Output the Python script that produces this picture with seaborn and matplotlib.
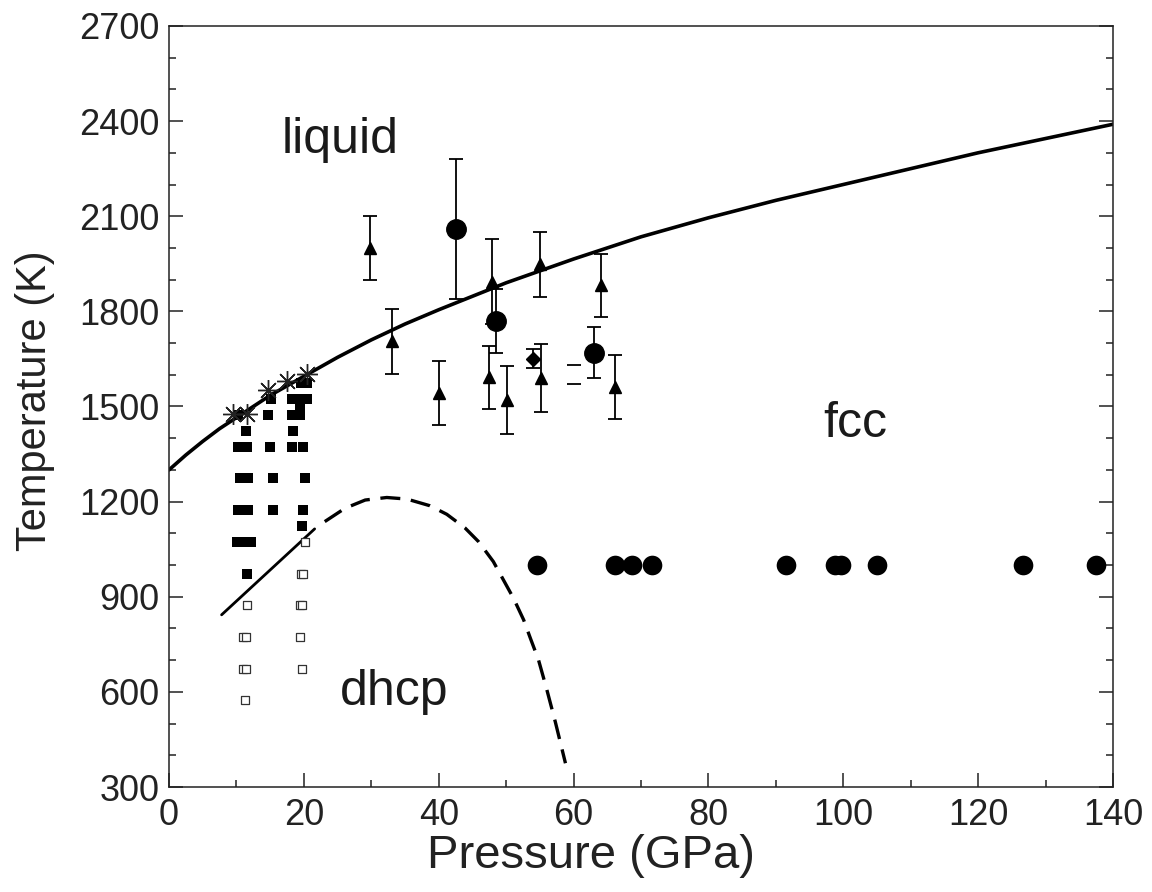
import numpy as np
import pandas as pd
import seaborn as sns
import matplotlib.pyplot as plt
from matplotlib.ticker import MultipleLocator

# melting curve
melt_P = [0, 2.5, 5, 7.5, 10, 15, 20, 25, 30, 35, 40, 50, 60, 70, 80, 90, 100, 110, 120,
          130, 140]
melt_T = [1300, 1347, 1390, 1430, 1465, 1535, 1595, 1655, 1710, 1760, 1805, 1890, 1965,
          2035, 2095, 2150, 2200, 2250, 2300, 2345, 2390]

# dhcp-fcc boundary: solid part and dashed part
bnd_P = [7.8, 21.6]
bnd_T = [843, 1114]
dash_P = [23.1, 26.1, 29.1, 32.3, 35.3, 38.7, 41.2, 43.9, 45.9, 48.1, 49.6, 51.1, 52.6,
          53.6, 54.8, 56.0, 57.3, 58.8]
dash_T = [1137, 1179, 1205, 1213, 1208, 1187, 1160, 1117, 1074, 1011, 953, 895, 827,
          769, 701, 610, 505, 375]

# filled squares (fcc)
fsq_P = [10.2, 11.4, 10.3, 11.5, 10.5, 11.7, 10.3, 11.7, 10.1, 11.1, 12.1, 11.5,
         15.2, 14.7, 15.0, 15.4, 15.4,
         19.6, 20.5, 18.2, 19.4, 20.5, 19.4, 18.3, 19.5, 18.4, 18.3, 19.9, 20.2, 19.9, 19.8]
fsq_T = [1473, 1423, 1373, 1373, 1273, 1273, 1173, 1173, 1073, 1073, 1073, 973,
         1523, 1473, 1373, 1273, 1173,
         1573, 1573, 1523, 1523, 1523, 1500, 1473, 1473, 1423, 1373, 1373, 1273, 1173, 1123]

# open squares (dhcp)
osq_P = [11.5, 11.0, 11.4, 11.0, 11.4, 11.2,
         20.1, 19.6, 19.9, 19.5, 19.8, 19.5, 19.8]
osq_T = [873, 773, 773, 673, 673, 573,
         1073, 973, 973, 873, 873, 773, 673]

# asterisks (melting)
ast_P = [9.55, 11.5, 14.7, 17.5, 20.5]
ast_T = [1475, 1475, 1552, 1580, 1603]

# triangles with error bars
tri_P = [29.8, 33.0, 40.1, 47.9, 47.4, 50.2, 55.0, 55.2, 64.1, 66.1]
tri_T = [2000, 1705, 1542, 1894, 1592, 1520, 1948, 1590, 1882, 1560]
tri_err = [100, 103, 100, 135, 100, 108, 103, 107, 100, 101]

# big circles with error bars
cir_P = [42.5, 48.5, 63.0]
cir_T = [2060, 1770, 1670]
cir_err = [221, 100, 80]

# diamond
dia_P = [54.0]
dia_T = [1650]
dia_err = [30]

# lone caps
cap_P = [60.0, 60.0]
cap_T = [1630, 1570]

# circles at 1000 K
row_P = [54.6, 66.1, 68.6, 71.6, 91.5, 98.8, 99.7, 105.0, 126.7, 137.5]
row_T = [1000] * len(row_P)

sns.set_style("ticks")
plt.rcParams['font.family'] = ['Liberation Sans', 'DejaVu Sans']

fig = plt.figure(figsize=(11.52, 8.92), dpi=100)
ax = fig.add_axes([0.1467, 0.1177, 0.8194, 0.8532])

sns.lineplot(x=melt_P, y=melt_T, ax=ax, color='black', lw=2.6, sort=False)
sns.lineplot(x=bnd_P, y=bnd_T, ax=ax, color='black', lw=2.0, sort=False)
ax.plot(dash_P, dash_T, color='black', lw=2.4, dashes=(6, 3.2))

sns.scatterplot(x=fsq_P, y=fsq_T, ax=ax, marker='s', s=42, color='black',
                edgecolor='black', linewidth=0, zorder=3)
sns.scatterplot(x=osq_P, y=osq_T, ax=ax, marker='s', s=28, facecolor='white',
                edgecolor='#333333', linewidth=0.9, zorder=3)
ax.plot(ast_P, ast_T, ls='none', marker=(8, 2, 0), ms=15, mec='#222222', mew=1.0, zorder=4)

ax.errorbar(tri_P, tri_T, yerr=tri_err, fmt='^', ms=8, color='black', ecolor='black',
            elinewidth=1.3, capsize=5, capthick=1.3, zorder=4)
ax.errorbar(cir_P, cir_T, yerr=cir_err, fmt='o', ms=14, color='black', ecolor='black',
            elinewidth=1.3, capsize=5, capthick=1.3, zorder=4)
ax.errorbar(dia_P, dia_T, yerr=dia_err, fmt='D', ms=7, color='black', ecolor='black',
            elinewidth=1.3, capsize=5, capthick=1.3, zorder=4)
ax.plot(cap_P, cap_T, ls='none', marker='_', ms=10, mew=1.3, color='black')

sns.scatterplot(x=row_P, y=row_T, ax=ax, marker='o', s=200, color='black',
                edgecolor='black', linewidth=0, zorder=4)

ax.text(16.7, 2299, 'liquid', fontsize=36, ha='left', va='baseline', color='#1a1a1a')
ax.text(97.1, 1405, 'fcc', fontsize=36, ha='left', va='baseline', color='#1a1a1a')
ax.text(25.3, 559, 'dhcp', fontsize=36, ha='left', va='baseline', color='#1a1a1a')

ax.set_xlim(0, 140)
ax.set_ylim(300, 2700)
ax.xaxis.set_major_locator(MultipleLocator(20))
ax.xaxis.set_minor_locator(MultipleLocator(10))
ax.yaxis.set_major_locator(MultipleLocator(300))
ax.yaxis.set_minor_locator(MultipleLocator(100))
ax.tick_params(which='both', direction='in', top=False, right=True, width=1.1,
               labelsize=26, colors='#222222')
ax.tick_params(which='major', length=10)
ax.tick_params(which='minor', length=5)
ax.tick_params(axis='x', pad=8)
ax.tick_params(axis='y', pad=7)
for sp in ax.spines.values():
    sp.set_linewidth(1.1)
    sp.set_color('#222222')

ax.set_xlabel('Pressure (GPa)', fontsize=34, color='#222222')
ax.set_ylabel('Temperature (K)', fontsize=30, color='#222222')
ax.xaxis.set_label_coords(0.447, -0.062, transform=ax.transAxes)
ax.yaxis.set_label_coords(-0.121, 0.508, transform=ax.transAxes)
ax.xaxis.label.set_va('top')

fig.savefig('out.png', dpi=100)
